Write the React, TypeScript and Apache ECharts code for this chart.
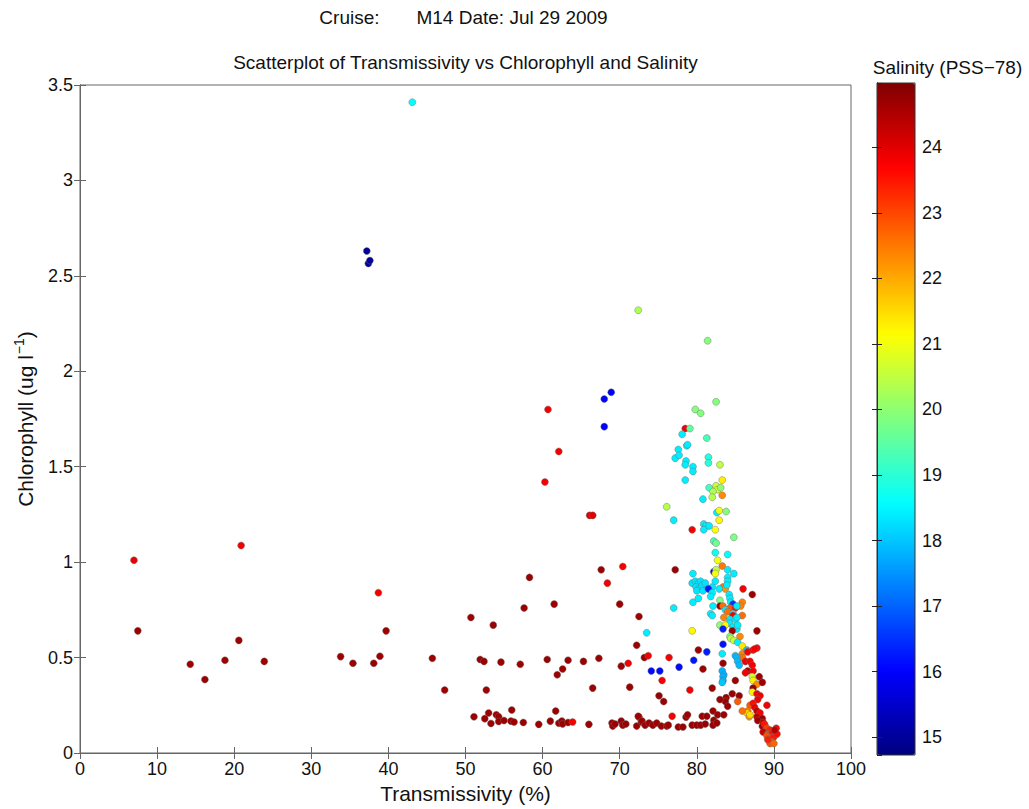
import React, { useEffect, useRef } from "react";
import * as echarts from "echarts";

// [transmissivity %, chlorophyll ug/l, salinity PSS-78]
const westPoints: number[][] = [
  [7.0, 1.01, 23.9], [7.5, 0.64, 24.7], [14.3, 0.465, 24.7], [16.2, 0.385, 24.7],
  [18.8, 0.486, 24.7], [20.6, 0.59, 24.7], [20.9, 1.087, 23.8], [23.9, 0.48, 24.7],
  [33.8, 0.505, 24.7], [35.4, 0.47, 24.7], [38.1, 0.47, 24.7], [38.9, 0.507, 24.7],
  [38.7, 0.84, 23.8], [39.7, 0.64, 24.7], [45.7, 0.496, 24.7], [47.3, 0.33, 24.7],
  [43.1, 3.41, 18.6], [37.2, 2.63, 15.0], [37.4, 2.565, 15.0], [37.6, 2.58, 15.0],
];

const midPoints: number[][] = [
  [50.7, 0.71, 24.7], [51.9, 0.49, 24.7], [52.4, 0.48, 24.7], [52.7, 0.33, 24.7],
  [53.6, 0.67, 24.7], [54.6, 0.476, 24.7], [57.1, 0.465, 24.7], [57.6, 0.76, 24.7],
  [58.3, 0.92, 24.7], [60.6, 0.49, 24.7], [61.5, 0.78, 24.7], [62.6, 0.44, 24.7],
  [61.9, 0.41, 24.7], [63.3, 0.486, 24.7], [65.3, 0.48, 24.7], [66.5, 0.34, 24.7],
  [67.3, 0.496, 24.7], [67.6, 0.96, 24.7], [68.4, 0.89, 23.8], [70.4, 0.977, 23.8],
  [70.0, 0.78, 24.7], [70.2, 0.455, 24.7], [71.1, 0.47, 23.8], [71.3, 0.345, 24.7],
  [72.5, 0.715, 24.7], [72.2, 0.565, 24.7], [73.2, 0.5, 24.7], [73.7, 0.51, 23.8],
  [73.5, 0.63, 18.4], [74.1, 0.43, 16.1], [75.2, 0.43, 16.1], [77.7, 0.45, 16.1],
  [76.4, 0.5, 23.8], [75.5, 0.38, 23.8], [75.1, 0.30, 24.7], [75.7, 0.27, 24.7],
  [79.1, 0.33, 23.8], [60.7, 1.80, 23.8], [62.1, 1.58, 23.8], [60.3, 1.42, 23.8],
  [66.1, 1.245, 24.0], [66.5, 1.245, 24.0], [68.9, 1.89, 16.0], [68.0, 1.855, 16.0],
  [68.0, 1.71, 16.0], [72.4, 2.32, 20.3], [81.4, 2.16, 19.9], [77.0, 0.76, 18.4],
  [80.8, 0.44, 24.7], [83.4, 0.47, 24.7], [79.6, 0.486, 16.2], [81.3, 0.53, 16.3],
  [80.2, 0.54, 24.7], [82.0, 0.34, 24.7], [83.8, 0.29, 24.7], [83.7, 0.27, 24.7],
  [84.0, 0.245, 24.7], [83.0, 0.28, 24.7],
];

const bottomRow: number[][] = [
  [51.1, 0.19, 24.7], [52.5, 0.18, 24.7], [53.0, 0.21, 24.7], [53.3, 0.155, 24.7],
  [54.0, 0.20, 24.7], [54.3, 0.19, 24.7], [54.3, 0.165, 24.7], [55.0, 0.17, 24.7],
  [56.0, 0.225, 24.7], [55.9, 0.167, 24.7], [56.3, 0.162, 24.7], [57.5, 0.16, 24.7],
  [59.5, 0.15, 24.7], [61.0, 0.167, 24.7], [61.7, 0.22, 24.7], [62.1, 0.156, 24.7],
  [62.5, 0.167, 24.7], [62.6, 0.152, 24.7], [63.3, 0.16, 24.7], [63.9, 0.162, 23.8],
  [66.0, 0.15, 24.7], [69.0, 0.157, 24.7], [69.1, 0.141, 24.7], [69.4, 0.152, 24.7],
  [70.2, 0.167, 24.7], [70.4, 0.146, 24.7], [70.8, 0.152, 24.7], [72.2, 0.141, 24.7],
  [72.5, 0.188, 24.7], [72.8, 0.162, 24.7], [72.4, 0.193, 24.7], [72.9, 0.167, 24.7],
  [73.3, 0.146, 24.7], [73.8, 0.157, 24.7], [74.3, 0.146, 24.7], [74.8, 0.157, 24.7],
  [75.4, 0.141, 24.7], [76.1, 0.141, 24.7], [76.3, 0.146, 24.7], [76.8, 0.193, 23.8],
  [77.6, 0.136, 24.7], [78.2, 0.136, 24.7], [78.6, 0.188, 24.7], [78.8, 0.2, 24.7],
  [79.4, 0.146, 24.7], [80.0, 0.146, 24.7], [80.5, 0.146, 24.7], [81.1, 0.152, 24.7],
  [80.7, 0.193, 24.7], [81.3, 0.193, 24.7], [82.1, 0.22, 24.7], [82.7, 0.2, 24.7],
  [83.5, 0.2, 24.7], [82.2, 0.172, 24.7], [82.1, 0.146, 24.7], [82.6, 0.157, 24.7],
];

const clusterUpper: number[][] = [
  [82.5, 1.84, 19.9], [79.8, 1.80, 19.9], [80.5, 1.78, 19.9], [78.5, 1.70, 23.8],
  [79.1, 1.70, 19.5], [78.1, 1.67, 18.4], [81.3, 1.65, 19.3], [77.6, 1.59, 18.4],
  [78.7, 1.61, 18.4], [78.8, 1.615, 18.4], [77.2, 1.545, 18.4], [77.7, 1.56, 18.4],
  [81.5, 1.55, 18.9], [81.5, 1.52, 19.0], [78.6, 1.53, 18.4], [78.5, 1.51, 18.4],
  [79.5, 1.50, 18.4], [79.5, 1.475, 18.4], [83.0, 1.51, 20.5], [78.5, 1.43, 18.4],
  [83.3, 1.43, 21.3], [81.6, 1.39, 19.2], [82.5, 1.40, 20.6], [82.7, 1.38, 20.8],
  [82.1, 1.37, 20.3], [82.0, 1.34, 20.4], [83.1, 1.39, 20.0], [83.3, 1.35, 22.3],
  [80.8, 1.33, 18.4], [76.1, 1.29, 20.4], [82.6, 1.26, 18.4], [82.9, 1.27, 21.0],
  [83.8, 1.265, 19.9], [82.9, 1.22, 21.2], [77.0, 1.22, 18.4], [79.4, 1.17, 23.8],
  [80.9, 1.20, 18.4], [81.2, 1.19, 18.4], [80.9, 1.17, 18.4], [81.6, 1.19, 18.4],
  [82.4, 1.17, 21.1], [84.8, 1.13, 19.8], [82.2, 1.11, 19.3], [82.5, 1.10, 19.7],
  [82.4, 1.05, 18.7], [84.0, 1.04, 18.6], [82.7, 1.01, 21.0],
];

const clusterLower: number[][] = [
  [77.2, 0.96, 24.7], [83.3, 0.98, 22.5], [82.2, 0.95, 16.2], [82.5, 0.96, 20.5],
  [84.0, 0.96, 18.4], [79.5, 0.94, 18.4], [84.8, 0.94, 18.4], [82.4, 0.94, 21.1],
  [84.0, 0.92, 18.4], [79.4, 0.89, 18.3], [79.8, 0.90, 18.3], [80.2, 0.89, 18.3],
  [80.5, 0.90, 18.3], [79.9, 0.87, 18.3], [80.3, 0.86, 18.3], [80.7, 0.88, 18.3],
  [81.1, 0.89, 18.3], [80.0, 0.85, 18.3], [80.8, 0.85, 18.3], [82.0, 0.87, 18.3],
  [81.5, 0.86, 16.3], [82.4, 0.90, 18.4], [83.4, 0.87, 22.5], [83.7, 0.86, 22.2],
  [82.9, 0.86, 18.4], [84.0, 0.90, 18.4], [83.9, 0.88, 18.4], [86.0, 0.86, 23.8],
  [87.2, 0.83, 24.7], [79.5, 0.79, 18.4], [80.2, 0.81, 18.4], [82.0, 0.84, 18.4],
  [81.8, 0.82, 18.4], [83.0, 0.80, 19.8], [84.2, 0.83, 18.4], [84.3, 0.81, 18.4],
  [84.4, 0.79, 18.4], [85.9, 0.79, 22.4], [85.7, 0.77, 22.4], [83.0, 0.77, 24.7],
  [82.1, 0.77, 18.4], [83.4, 0.77, 22.6], [84.7, 0.78, 16.5], [84.3, 0.76, 22.8],
  [85.0, 0.76, 23.5], [85.2, 0.77, 18.4], [81.8, 0.73, 18.4], [82.0, 0.72, 18.4],
  [83.7, 0.75, 18.4], [84.0, 0.74, 22.6], [84.7, 0.73, 18.4], [84.7, 0.72, 23.8],
  [83.5, 0.71, 22.4], [85.9, 0.72, 22.6], [84.3, 0.70, 18.4], [85.0, 0.70, 18.4],
  [85.2, 0.71, 18.4], [84.2, 0.68, 18.4], [83.0, 0.67, 20.0], [83.7, 0.67, 21.2],
  [84.7, 0.66, 18.4], [85.2, 0.65, 18.4], [85.3, 0.67, 18.4], [84.6, 0.64, 24.7],
  [83.4, 0.65, 16.3], [87.8, 0.64, 24.7], [79.4, 0.64, 21.2], [85.6, 0.61, 22.3],
  [84.3, 0.61, 19.9], [84.4, 0.60, 20.4], [84.8, 0.59, 20.6], [85.3, 0.58, 18.4],
  [85.9, 0.56, 21.4], [83.4, 0.57, 16.2], [83.3, 0.52, 18.4], [85.9, 0.52, 22.4],
  [85.9, 0.50, 22.6], [86.5, 0.54, 18.0], [86.6, 0.53, 23.8], [87.3, 0.54, 23.8],
  [87.8, 0.55, 23.7], [87.5, 0.545, 23.8], [85.0, 0.51, 17.9], [85.2, 0.50, 17.9],
  [85.3, 0.48, 17.9], [85.5, 0.46, 17.9], [86.3, 0.48, 23.8], [86.9, 0.48, 23.8],
  [87.2, 0.46, 23.8], [83.3, 0.43, 17.8], [83.5, 0.41, 17.8], [83.4, 0.40, 17.8],
  [83.4, 0.38, 17.8], [83.3, 0.37, 18.0],
];

const tailPoints: number[][] = [
  [86.6, 0.43, 24.7], [86.3, 0.42, 23.8], [87.3, 0.43, 23.8], [87.2, 0.40, 20.6],
  [88.1, 0.40, 24.7], [85.0, 0.38, 24.7], [87.3, 0.38, 21.3], [87.8, 0.36, 22.3],
  [88.5, 0.37, 24.7], [87.3, 0.34, 24.7], [87.2, 0.32, 21.3], [84.6, 0.31, 24.7],
  [85.5, 0.30, 24.7], [87.8, 0.31, 23.8], [88.2, 0.30, 23.8], [87.9, 0.28, 23.8],
  [85.3, 0.27, 22.8], [89.1, 0.25, 23.8], [86.9, 0.25, 22.8], [86.6, 0.22, 22.5],
  [86.5, 0.21, 21.6], [86.8, 0.19, 22.2], [87.3, 0.26, 23.6], [87.5, 0.24, 23.9],
  [87.8, 0.22, 24.3], [88.2, 0.21, 23.8], [87.8, 0.19, 24.4], [85.9, 0.22, 22.6],
  [86.9, 0.20, 21.5], [88.5, 0.18, 24.7], [87.9, 0.17, 24.7], [88.6, 0.16, 24.3],
  [88.5, 0.14, 24.7], [88.8, 0.15, 23.5], [89.1, 0.13, 23.1], [89.5, 0.12, 23.4],
  [88.6, 0.11, 24.2], [89.2, 0.10, 23.0], [89.7, 0.10, 23.6], [90.1, 0.09, 23.3],
  [89.1, 0.09, 22.9], [89.5, 0.08, 23.0], [89.9, 0.08, 23.5], [89.7, 0.06, 23.0],
  [89.5, 0.05, 22.9], [89.2, 0.07, 23.4], [90.3, 0.13, 23.7], [90.0, 0.05, 22.7],
  [90.4, 0.10, 23.6], [90.1, 0.12, 24.5],
];

const xTicks = { min: 0, max: 100, step: 10 };
const yTicks = { min: 0, max: 3.5, step: 0.5 };
const salinityRange = { min: 14.73, max: 24.98 };
const jetColors = [
  "#000080", "#0000ff", "#0080ff", "#00ffff", "#80ff80",
  "#ffff00", "#ff8000", "#ff0000", "#800000",
];

const FONT = "Liberation Sans, Arial, Helvetica, sans-serif";
const NB = "\u00a0";

export default function App() {
  const ref = useRef<HTMLDivElement>(null);
  useEffect(() => {
    if (!ref.current) return;
    const chart = echarts.init(ref.current, undefined, { renderer: "svg" });
    const data = [
      ...westPoints, ...midPoints, ...bottomRow,
      ...clusterUpper, ...clusterLower, ...tailPoints,
    ];
    const axisLineStyle = { color: "#666", width: 1 };
    const option: any = {
      animation: false,
      backgroundColor: "#fff",
      textStyle: { fontFamily: FONT },
      graphic: [
        {
          type: "text", x: 463.5, y: 17,
          style: {
            text: "Cruise:" + NB.repeat(7) + "M14 Date: Jul 29 2009",
            font: `19px ${FONT}`, fill: "#111", align: "center", verticalAlign: "middle",
          },
        },
        {
          type: "text", x: 465.5, y: 62,
          style: {
            text: "Scatterplot of Transmissivity vs Chlorophyll and Salinity",
            font: `19px ${FONT}`, fill: "#111", align: "center", verticalAlign: "middle",
          },
        },
        {
          type: "text", x: 947.5, y: 67,
          style: {
            text: "Salinity (PSS\u221278)",
            font: `19px ${FONT}`, fill: "#111", align: "center", verticalAlign: "middle",
          },
        },
      ],
      grid: [
        { left: 80, top: 85, width: 771, height: 670, show: true, borderColor: "#666", borderWidth: 1, backgroundColor: "transparent" },
        { left: 877, top: 83, width: 38, height: 672, show: true, borderColor: "#333", borderWidth: 1, backgroundColor: "transparent", z: 6 },
      ],
      xAxis: [
        {
          gridIndex: 0, type: "value", min: xTicks.min, max: xTicks.max, interval: xTicks.step,
          name: "Transmissivity (%)", nameLocation: "middle", nameGap: 30,
          nameTextStyle: { fontSize: 21, color: "#111", fontFamily: FONT },
          axisLine: { lineStyle: axisLineStyle },
          axisTick: { inside: true, length: 6, lineStyle: axisLineStyle },
          axisLabel: { fontSize: 18, color: "#111", margin: 7, fontFamily: FONT },
          splitLine: { show: false },
        },
        {
          gridIndex: 0, type: "value", position: "top", min: xTicks.min, max: xTicks.max, interval: xTicks.step,
          axisLine: { lineStyle: axisLineStyle },
          axisTick: { inside: true, length: 6, lineStyle: axisLineStyle },
          axisLabel: { show: false }, splitLine: { show: false },
        },
        {
          gridIndex: 1, type: "value", min: 0, max: 1, show: false,
        },
      ],
      yAxis: [
        {
          gridIndex: 0, type: "value", min: yTicks.min, max: yTicks.max, interval: yTicks.step,
          name: "Chlorophyll (ug l{sup|\u22121})", nameLocation: "middle", nameGap: 42,
          nameTextStyle: {
            fontSize: 21, color: "#111", fontFamily: FONT,
            rich: { sup: { fontSize: 14, verticalAlign: "bottom", padding: [0, 0, 12, 1], color: "#111", fontFamily: FONT } },
          },
          axisLine: { lineStyle: axisLineStyle },
          axisTick: { inside: true, length: 6, lineStyle: axisLineStyle },
          axisLabel: { fontSize: 18, color: "#111", margin: 7, fontFamily: FONT },
          splitLine: { show: false },
        },
        {
          gridIndex: 0, type: "value", position: "right", min: yTicks.min, max: yTicks.max, interval: yTicks.step,
          axisLine: { lineStyle: axisLineStyle },
          axisTick: { inside: true, length: 6, lineStyle: axisLineStyle },
          axisLabel: { show: false }, splitLine: { show: false },
        },
        {
          gridIndex: 1, type: "value", position: "right", min: salinityRange.min, max: salinityRange.max,
          splitNumber: 10, z: 7,
          axisLine: { show: true, lineStyle: { color: "#333" } },
          axisTick: { inside: true, length: 5, lineStyle: { color: "#222" } },
          axisLabel: {
            fontSize: 18, color: "#111", margin: 7, fontFamily: FONT,
            showMinLabel: false, showMaxLabel: false,
            formatter: (v: number) => (Math.abs(v - Math.round(v)) < 1e-6 ? String(Math.round(v)) : ""),
          },
          splitLine: { show: false },
        },
        {
          gridIndex: 1, type: "value", position: "left", min: salinityRange.min, max: salinityRange.max,
          splitNumber: 10, z: 7,
          axisLine: { show: true, lineStyle: { color: "#333" } },
          axisTick: { inside: true, length: 5, lineStyle: { color: "#222" } },
          axisLabel: { show: false }, splitLine: { show: false },
        },
      ],
      visualMap: {
        type: "continuous",
        min: salinityRange.min, max: salinityRange.max,
        dimension: 2, seriesIndex: 0,
        left: 877, top: 83, itemWidth: 38, itemHeight: 672,
        padding: 0, calculable: false, hoverLink: false,
        text: null, showLabel: false,
        inRange: { color: jetColors },
      },
      series: [
        {
          type: "scatter",
          xAxisIndex: 0, yAxisIndex: 0,
          data,
          symbolSize: 7,
          itemStyle: { borderColor: "rgba(110,110,110,0.55)", borderWidth: 0.8, opacity: 1 },
        },
      ],
    };
    chart.setOption(option);
    return () => chart.dispose();
  }, []);
  return <div ref={ref} style={{ position: "fixed", left: 0, top: 0, width: 1029, height: 809 }} />;
}
